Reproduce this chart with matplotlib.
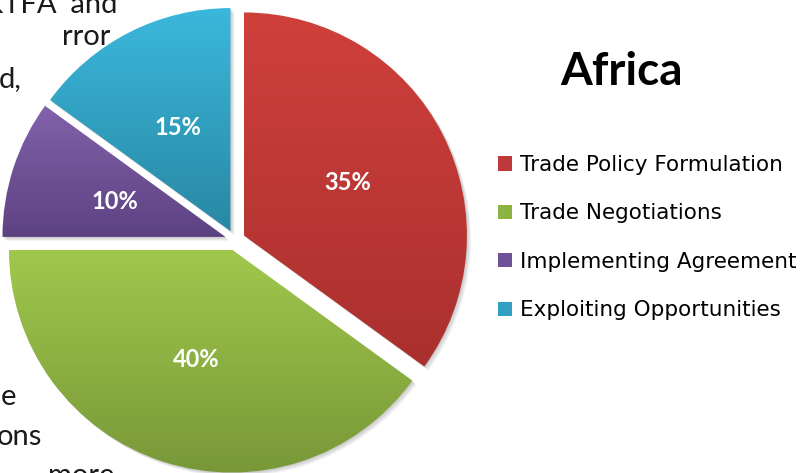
import matplotlib.pyplot as plt
import numpy as np
from matplotlib.patches import Patch, Wedge
from matplotlib.colors import LinearSegmentedColormap

# pie data
categories = ['Trade Policy Formulation', 'Trade Negotiations',
              'Implementing Agreement', 'Exploiting Opportunities']
shares = [35, 40, 10, 15]
top_colors = ['#d0403b', '#a0c84c', '#8262ab', '#3bb8dc']
bottom_colors = ['#a9302e', '#789838', '#5d4282', '#2888a4']
legend_colors = ['#c0393a', '#8db443', '#6f5296', '#31a0c2']
title = 'Africa'

# bits of the slide text that peek out from behind the pie
backdrop_text = ["KTFA\u2019 and", 'rror', 'd,', 'e', 'ons', 'more']

W, H = 800, 473
fig = plt.figure(figsize=(8, 4.73), dpi=100)
ax = fig.add_axes([0, 0, 1, 1])

# note: explode is in data units here (pixels), not a fraction of the radius
wedges, texts, autotexts = ax.pie(
    shares, startangle=90, counterclock=False, explode=[10] * 4,
    radius=223, center=(235, H - 240), autopct='%d%%', pctdistance=0.52,
    wedgeprops=dict(linewidth=0),
    textprops=dict(color='white', fontsize=17, fontweight='bold', family='Lato'))

grad = np.linspace(0, 1, 256).reshape(-1, 1)
for w, c_top, c_bot in zip(wedges, top_colors, bottom_colors):
    # soft shadow down and to the right
    for k in range(1, 7):
        sh = Wedge((w.center[0] + k * 0.7, w.center[1] - k * 0.7), w.r,
                   w.theta1, w.theta2, facecolor='black', alpha=0.035,
                   linewidth=0, zorder=1)
        ax.add_patch(sh)
    w.set_facecolor('none')
    w.set_zorder(2)
    bb = w.get_path().get_extents()
    cmap = LinearSegmentedColormap.from_list('g', [c_bot, c_top])
    im = ax.imshow(grad, extent=[bb.x0, bb.x1, bb.y0, bb.y1], origin='lower',
                   cmap=cmap, aspect='auto', zorder=2, interpolation='bilinear')
    im.set_clip_path(w)

for t in autotexts:
    t.set_zorder(4)

# slide text behind the chart
bt = dict(fontsize=21, family='Lato', color='#1a1a1a', va='baseline', zorder=0)
ax.text(118, H - 13, backdrop_text[0], ha='right', **bt)
ax.text(62, H - 45, backdrop_text[1], ha='left', **bt)
ax.text(22, H - 87, backdrop_text[2], ha='right', **bt)
ax.text(16, H - 405, backdrop_text[3], ha='right', **bt)
ax.text(42, H - 445, backdrop_text[4], ha='right', **bt)
ax.text(48, H - 484, backdrop_text[5], ha='left', **bt)

ax.text(621, H - 85, title, ha='center', va='baseline', fontsize=33,
        fontweight='bold', family='Lato')

handles = [Patch(facecolor=c, edgecolor='none') for c in legend_colors]
ax.legend(handles, categories, loc='upper left', bbox_to_anchor=(498, H - 155),
          bbox_transform=ax.transData, frameon=False,
          prop=dict(family='DejaVu Sans', size=15.5),
          handlelength=0.65, handleheight=0.65, handletextpad=0.35,
          labelspacing=1.32, borderpad=0, borderaxespad=0)

ax.set_xlim(0, W)
ax.set_ylim(0, H)
ax.axis('off')

fig.savefig('out.png', dpi=100)
